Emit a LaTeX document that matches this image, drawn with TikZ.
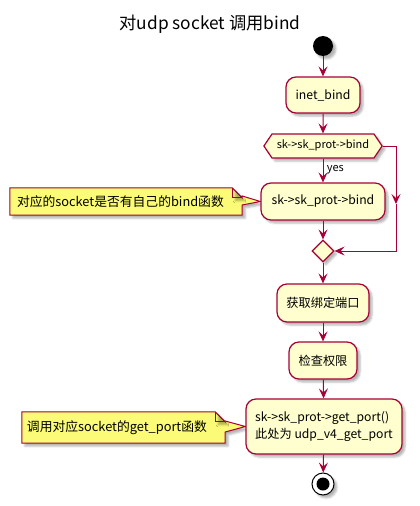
\documentclass[tikz,border=0pt]{standalone}
\usepackage{fontspec}
\setmainfont{Noto Sans CJK SC}
\usetikzlibrary{shapes.geometric,shapes.symbols,arrows.meta,calc,shadows.blur,backgrounds}
\definecolor{pumlred}{HTML}{A80036}
\definecolor{actfill}{HTML}{FEFECE}
\definecolor{notefill}{HTML}{FBFB77}

\tikzset{
  softshadow/.style={blur shadow={shadow xshift=3pt,shadow yshift=-3pt,shadow opacity=30,shadow blur radius=2pt}},
  act/.style={draw=pumlred, fill=actfill, line width=1.2pt, rounded corners=10pt,
    inner sep=0pt, font=\fontsize{12.2}{17}\selectfont, align=center, softshadow},
  cond/.style={signal, signal to=west and east, signal pointer angle=112,
    draw=pumlred, fill=actfill, line width=1.2pt, inner xsep=3pt, inner ysep=6.5pt,
    text width=96pt, align=center, text height=8pt, text depth=3pt,
    font=\fontsize{11}{13}\selectfont, softshadow},
  merge/.style={diamond, draw=pumlred, fill=actfill, line width=1.2pt, inner sep=0pt,
    minimum width=22pt, minimum height=22pt, softshadow},
  notetext/.style={inner ysep=0pt, align=left, font=\fontsize{12.8}{15}\selectfont},
  noteshape/.style={draw=pumlred, fill=notefill, line width=1pt, line join=miter, softshadow},
  flow/.style={draw=pumlred, line width=1pt, -{Stealth[length=10pt,width=9pt,inset=4pt]}},
}

\begin{document}
\begin{tikzpicture}[x=1pt,y=-1pt]
  \useasboundingbox (0,0) rectangle (420,506);

  % title
  \node[font=\fontsize{17.3}{20}\selectfont] (title) at (210,24) {对udp socket 调用bind};

  % start point
  \node[circle, fill=black, minimum size=20pt, inner sep=0pt, softshadow] (start) at (323,46) {};

  % activities
  \node[act, minimum width=74pt, minimum height=36pt] (bind) at (323,95) {inet\_bind};
  \node[cond] (test) at (323,146) {sk->sk\_prot->bind};
  \node[act, minimum width=124pt, minimum height=37pt] (protbind) at (323,201.5) {sk->sk\_prot->bind};
  \node[merge] (join) at (323,251) {};
  \node[act, minimum width=92pt, minimum height=38pt] (getport) at (323,303) {获取绑定端口};
  \node[act, minimum width=68pt, minimum height=37pt] (perm) at (323,360.5) {检查权限};
  \node[act, minimum width=156pt, minimum height=55pt, align=left] (udpport) at (324,426.5)
    {sk->sk\_prot->get\_port()\\此处为 udp\_v4\_get\_port};

  % end point
  \node[circle, draw=black, fill=white, line width=1pt, minimum size=22pt, inner sep=0pt, softshadow] (stop) at (323,484) {};
  \node[circle, fill=black, minimum size=13pt, inner sep=0pt] (stopdot) at (stop.center) {};

  % notes
  \node[notetext, text width=218pt, inner xsep=7pt, minimum height=27pt] (note1) at (126,201.5)
    {对应的socket是否有自己的bind函数};
  \node[notetext, text width=193pt, inner xsep=5pt, minimum height=31pt] (note2) at (123.5,427.5)
    {调用对应socket的get\_port函数};

  \begin{scope}[on background layer]
    \filldraw[noteshape] (note1.north west) -- ($(note1.north east)+(-10,0)$) -- ($(note1.north east)+(0,10)$)
      -- ($(note1.east)+(0,-5.5)$) -- (protbind.west) -- ($(note1.east)+(0,3.5)$)
      -- (note1.south east) -- (note1.south west) -- cycle;
    \draw[noteshape, fill=none] ($(note1.north east)+(-10,0)$) -- ($(note1.north east)+(-10,10)$) -- ($(note1.north east)+(0,10)$);

    \filldraw[noteshape] (note2.north west) -- ($(note2.north east)+(-10,0)$) -- ($(note2.north east)+(0,10)$)
      -- ($(note2.east)+(0,-6.5)$) -- (udpport.west) -- ($(note2.east)+(0,4.5)$)
      -- (note2.south east) -- (note2.south west) -- cycle;
    \draw[noteshape, fill=none] ($(note2.north east)+(-10,0)$) -- ($(note2.north east)+(-10,10)$) -- ($(note2.north east)+(0,10)$);
  \end{scope}

  % flow
  \draw[flow] (start) -- (bind);
  \draw[flow] (bind) -- (test);
  \draw[flow] (test.south) -- node[pos=0.45, right=0pt, font=\fontsize{11}{13}\selectfont] (yes) {yes} (protbind.north);
  \draw[flow] (protbind) -- (join);
  \coordinate (sidemid) at (396,204);
  \draw[flow] (test.east) -| (sidemid);
  \draw[flow] (sidemid) |- (join.east);
  \draw[flow] (join) -- (getport);
  \draw[flow] (getport) -- (perm);
  \draw[flow] (perm) -- (udpport);
  \draw[flow] (udpport) -- (stop);
\end{tikzpicture}
\end{document}
